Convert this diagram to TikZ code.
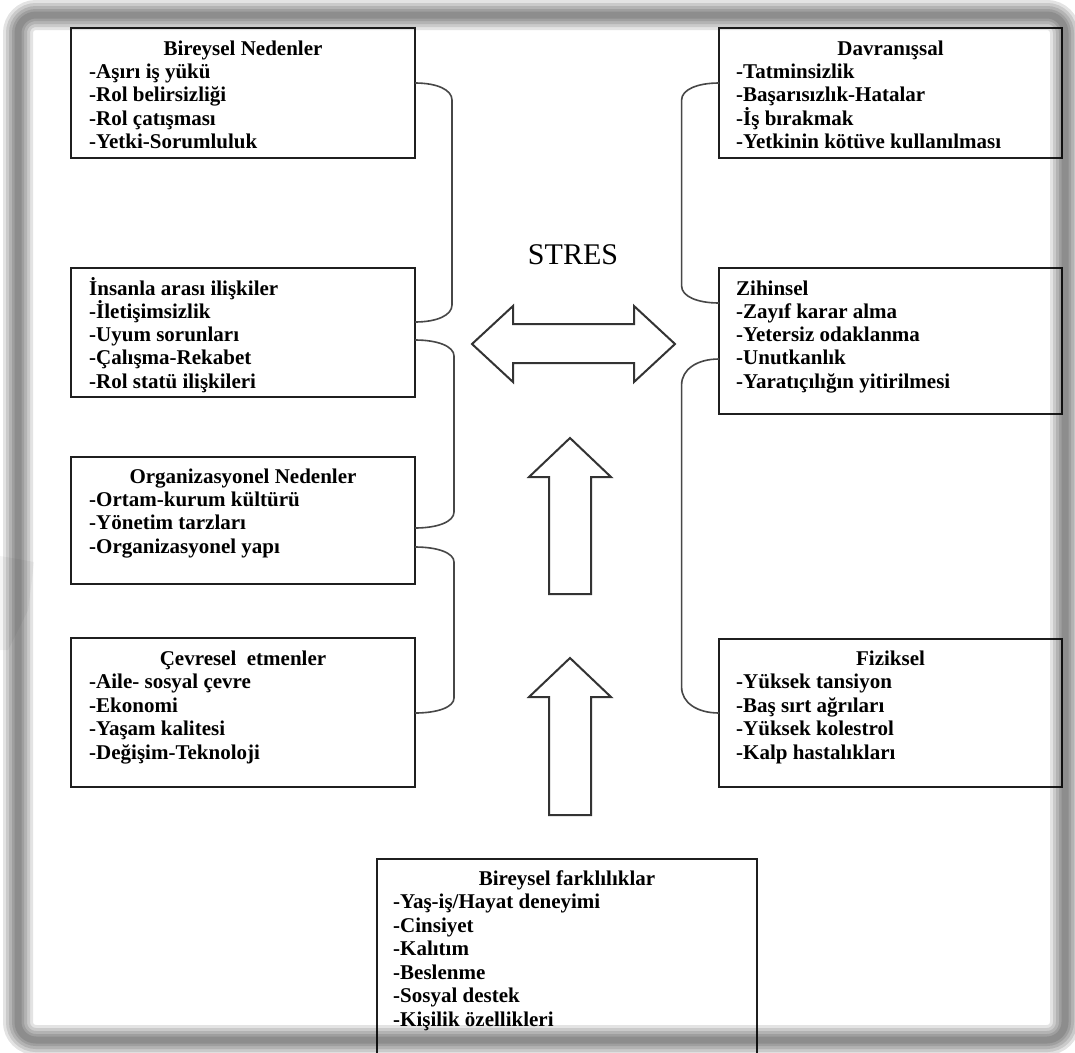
\documentclass[tikz,border=0pt]{standalone}
\usepackage{fontspec}
\setmainfont{Liberation Serif}
\usetikzlibrary{calc}
\tikzset{
  x=1pt, y=-1pt,
  boxn/.style={draw=black!88, line width=2pt, inner sep=0pt, outer sep=0pt, anchor=north west},
  ttl/.style={font=\fontsize{21}{23.4}\selectfont\bfseries, inner sep=0pt, anchor=base},
  ttll/.style={ttl, anchor=base west},
  itm/.style={font=\fontsize{21}{23.4}\selectfont\bfseries, inner sep=0pt, anchor=base west},
  brk/.style={draw=black!72, line width=1.6pt},
  bigarrow/.style={draw=black!80, line width=2pt, line join=miter},
  frm/.style={draw=black, draw opacity=0.11, rounded corners=18pt},
}
\newcommand\mybrack[5]{%
  \draw[brk] (#1) .. controls +(#5,0) and +(0,-0.6*#4) .. ($(#1)+(#3,#4)$)
    -- ($(#2)+(#3,-#4)$) .. controls +(0,0.6*#4) and +(#5,0) .. (#2);}
\begin{document}
\begin{tikzpicture}
\useasboundingbox (0,0) rectangle (1075,1052);
\fill[white] (0,0) rectangle (1075,1052);
\fill[black, opacity=0.04] (0,556) -- (34,562) -- (28,610) -- (8,650) -- (0,650) -- cycle;

% ---------- left boxes ----------
\node[boxn, minimum width=344pt, minimum height=130pt] (bn) at (71,28) {};
\node[ttl] (bn-t) at (243,55) {Bireysel Nedenler};
\foreach \s [count=\i] in {-Aşırı iş yükü,-Rol belirsizliği,-Rol çatışması,-Yetki-Sorumluluk}
  \node[itm] (bn-\i) at (89,55+23.4*\i) {\s};

\node[boxn, minimum width=344pt, minimum height=129pt] (ia) at (71,268) {};
\node[ttll] (ia-t) at (89,295) {İnsanla arası ilişkiler};
\foreach \s [count=\i] in {-İletişimsizlik,-Uyum sorunları,-Çalışma-Rekabet,-Rol statü ilişkileri}
  \node[itm] (ia-\i) at (89,295+23.3*\i) {\s};

\node[boxn, minimum width=344pt, minimum height=127pt] (on) at (71,457) {};
\node[ttl] (on-t) at (243,483) {Organizasyonel Nedenler};
\foreach \s [count=\i] in {-Ortam-kurum kültürü,-Yönetim tarzları,-Organizasyonel yapı}
  \node[itm] (on-\i) at (89,483+23.4*\i) {\s};

\node[boxn, minimum width=344pt, minimum height=149pt] (ce) at (71,638) {};
\node[ttl] (ce-t) at (243,665) {Çevresel\ \ etmenler};
\foreach \s [count=\i] in {-Aile- sosyal çevre,-Ekonomi,-Yaşam kalitesi,-Değişim-Teknoloji}
  \node[itm] (ce-\i) at (89,665+23.6*\i) {\s};

% ---------- right boxes ----------
\node[boxn, minimum width=343pt, minimum height=130pt] (dv) at (719,28) {};
\node[ttl] (dv-t) at (890.5,55) {Davranışsal};
\foreach \s [count=\i] in {-Tatminsizlik,-Başarısızlık-Hatalar,-İş bırakmak,-Yetkinin kötüve kullanılması}
  \node[itm] (dv-\i) at (736,55+23.4*\i) {\s};

\node[boxn, minimum width=343pt, minimum height=146pt] (zh) at (719,268) {};
\node[ttll] (zh-t) at (736,295) {Zihinsel};
\foreach \s [count=\i] in {-Zayıf karar alma,-Yetersiz odaklanma,-Unutkanlık,-Yaratıçılığın yitirilmesi}
  \node[itm] (zh-\i) at (736,295+23.3*\i) {\s};

\node[boxn, minimum width=343pt, minimum height=148pt] (fz) at (719,639) {};
\node[ttl] (fz-t) at (890.5,665) {Fiziksel};
\foreach \s [count=\i] in {-Yüksek tansiyon,-Baş sırt ağrıları,-Yüksek kolestrol,-Kalp hastalıkları}
  \node[itm] (fz-\i) at (736,665+23.6*\i) {\s};

% ---------- bottom box (runs off the page bottom) ----------
\node[boxn, minimum width=380pt, minimum height=210pt] (bf) at (377,859) {};
\node[ttl] (bf-t) at (567,885) {Bireysel farklılıklar};
\foreach \s [count=\i] in {-Yaş-iş/Hayat deneyimi,-Cinsiyet,-Kalıtım,-Beslenme,-Sosyal destek,-Kişilik özellikleri}
  \node[itm] (bf-\i) at (393,885+23.5*\i) {\s};

% ---------- centre ----------
\node[font=\fontsize{30}{34}\selectfont, inner sep=0pt] (stres) at (573,255) {STRES};

\draw[bigarrow] (472,344) -- (513,306) -- (513,324) -- (634,324) -- (634,306) -- (675,344)
  -- (634,382) -- (634,363) -- (513,363) -- (513,382) -- cycle;
\draw[bigarrow] (570,438) -- (611,477) -- (591,477) -- (591,594) -- (549,594) -- (549,477) -- (529,477) -- cycle;
\draw[bigarrow] (570,658) -- (611,697) -- (591,697) -- (591,815) -- (549,815) -- (549,697) -- (529,697) -- cycle;

% ---------- brackets ----------
\coordinate (l1s) at ([yshift=-55pt]bn.north east);
\coordinate (l1e) at ([yshift=-54pt]ia.north east);
\coordinate (l2s) at ([yshift=-72pt]ia.north east);
\coordinate (l2e) at ([yshift=-71pt]on.north east);
\coordinate (l3s) at ([yshift=-90pt]on.north east);
\coordinate (l3e) at ([yshift=-75pt]ce.north east);
\coordinate (r1s) at ([yshift=-55pt]dv.north west);
\coordinate (r1e) at ([yshift=-35pt]zh.north west);
\coordinate (r2s) at ([yshift=-91pt]zh.north west);
\coordinate (r2e) at ([yshift=-74pt]fz.north west);
\mybrack{l1s}{l1e}{37}{17}{22}
\mybrack{l2s}{l2e}{39}{16}{23}
\mybrack{l3s}{l3e}{39}{15}{23}
\mybrack{r1s}{r1e}{-37.4}{17}{-22}
\mybrack{r2s}{r2e}{-37.4}{26}{-22}

% ---------- frame shadow ----------
\foreach \w in {30,24,18,12,7}
  \draw[frm, line width=\w pt] (18,15) rectangle (1065,1040);
\end{tikzpicture}
\end{document}
